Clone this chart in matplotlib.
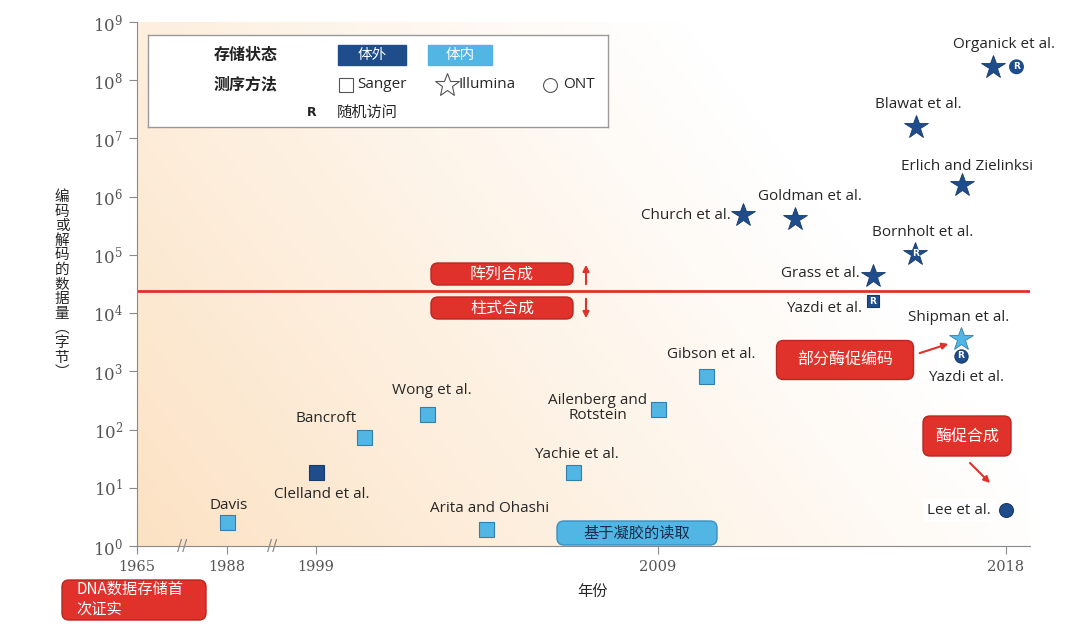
import numpy as np
import matplotlib
matplotlib.use("Agg")
import matplotlib.pyplot as plt
from matplotlib.patches import FancyBboxPatch, FancyArrowPatch
from matplotlib.ticker import FixedLocator, FuncFormatter, NullLocator

plt.rcParams['font.family'] = ['Open Sans', 'Noto Sans CJK SC', 'DejaVu Sans']
plt.rcParams['mathtext.fontset'] = 'dejavuserif'

# --- data --------------------------------------------------------------
authors = ["Davis", "Clelland et al.", "Bancroft", "Wong et al.",
           "Arita and Ohashi", "Yachie et al.", "Ailenberg and\nRotstein",
           "Gibson et al.", "Church et al.", "Goldman et al.", "Grass et al.",
           "Yazdi et al.", "Bornholt et al.", "Blawat et al.",
           "Erlich and Zielinksi", "Organick et al.", "Shipman et al.",
           "Yazdi et al.", "Lee et al."]
years = [1988, 1999, 2000.4, 2002.25, 2003.97, 2006.5, 2009, 2010.24,
         2011.2, 2012.54, 2014.56, 2014.56, 2015.65, 2015.67, 2016.86,
         2017.66, 2016.83, 2016.83, 2018]
data_bytes = [2.6, 18.7, 75, 185, 1.96, 18.7, 226, 834,
              4.9e5, 4.2e5, 4.4e4, 1.6e4, 1.04e5, 1.6e7, 1.6e6,
              1.7e8, 3.6e3, 1.84e3, 4.2]
storage = ["vivo", "vitro", "vivo", "vivo", "vivo", "vivo", "vivo", "vivo",
           "vitro", "vitro", "vitro", "vitro", "vitro", "vitro", "vitro",
           "vitro", "vivo", "vitro", "vitro"]
method = ["Sanger"] * 8 + ["Illumina"] * 3 + ["Sanger"] + ["Illumina"] * 5 + ["ONT", "ONT"]
random_access = ["", "", "", "", "", "", "", "", "", "", "", "in", "in", "",
                 "", "side", "", "in", ""]
threshold = 2.4e4  # array vs column synthesis

year_ticks = [1965, 1988, 1999, 2009, 2018]

# axis break: piecewise year -> position
knot_years = [1900, 1965, 1988, 1999, 2009, 2018, 2030]
knot_pos = [-254, 0, 90, 179, 521, 869, 1333]

DARK = "#1f4d8c"
LIGHT = "#52b6e4"
RED = "#e0312a"
GREY = "#555555"
TXT = "#262626"

fig = plt.figure(figsize=(10.8, 6.38), dpi=100)
W, H = 1080, 638
ax = fig.add_axes([137 / W, 1 - 546 / H, 893 / W, 524 / H])
ax.set_xscale('function', functions=(lambda x: np.interp(x, knot_years, knot_pos),
                                     lambda p: np.interp(p, knot_pos, knot_years)))
ax.set_yscale('log')

# soft peach background
gx, gy = np.meshgrid(np.linspace(0, 1, 300), np.linspace(0, 1, 200))
w = np.clip(1 - 0.95 * gx - 0.42 * gy, 0, 1) ** 1.05
peach = np.array([252, 226, 196]) / 255
img = (1 - w[..., None]) * np.ones(3) + w[..., None] * peach
ax.imshow(img, extent=[0, 1, 0, 1], transform=ax.transAxes, origin='lower',
          aspect='auto', zorder=0, interpolation='bilinear')

ax.set_xlim(1965, 2018.62)
ax.set_ylim(1, 1e9)

ax.axhline(threshold, color=RED, lw=2, zorder=2)

label_offsets = [(2, 16), (6, -23), (-38, 18), (5, 24), (4, 20), (4, 17),
                 (-60, 1), (5, 21), (-57, -1), (15, 22), (-53, 2), (-49, -7),
                 (7, 21), (2, 22), (5, 18), (11, 22), (-2, 21), (5, -22),
                 (-47, -1)]

for name, yr, val, st, m, ra, off in zip(authors, years, data_bytes, storage,
                                          method, random_access, label_offsets):
    fc = DARK if st == "vitro" else LIGHT
    ec = "#163a6b" if st == "vitro" else "#2f7fb0"
    if m == "Sanger":
        ms = 8.5 if ra == "in" else 10.8
        ax.plot(yr, val, marker='s', ms=ms, mfc=fc, mec=ec, mew=0.8, zorder=4)
    elif m == "Illumina":
        ax.plot(yr, val, marker='*', ms=17.5, mfc=fc, mec=ec, mew=0.6, zorder=4)
    else:
        ms = 9.5 if ra == "in" else 10
        ax.plot(yr, val, marker='o', ms=ms, mfc=fc, mec=ec, mew=0.8, zorder=4)
    if ra == "in":
        ax.text(yr, val, "R", color="white", fontsize=6.5, fontweight='bold',
                ha='center', va='center', zorder=5, family='DejaVu Sans')
    elif ra == "side":
        ax.annotate("R", (yr, val), xytext=(17, 0), textcoords='offset points',
                    color="white", fontsize=6.5, fontweight='bold',
                    ha='center', va='center', zorder=5, family='DejaVu Sans',
                    bbox=dict(boxstyle='circle,pad=0.25', fc=DARK, ec=DARK))
    lbl_bbox = dict(fc='white', ec='none', pad=3) if name == "Lee et al." else None
    ax.annotate(name, (yr, val), xytext=(off[0] * 0.72, off[1] * 0.72),
                textcoords='offset points', ha='center', va='center',
                fontsize=11, color=TXT, linespacing=1.0, zorder=6,
                bbox=lbl_bbox)

# axes styling
for side in ("top", "right"):
    ax.spines[side].set_visible(False)
for side in ("left", "bottom"):
    ax.spines[side].set_color("#8a8a8a")
ax.xaxis.set_major_locator(FixedLocator(year_ticks))
ax.xaxis.set_major_formatter(FuncFormatter(lambda v, _: f"{int(round(v))}"))
ax.xaxis.set_minor_locator(NullLocator())
ax.yaxis.set_major_locator(FixedLocator([10.0 ** k for k in range(10)]))
ax.yaxis.set_major_formatter(FuncFormatter(
    lambda v, _: f"$10^{{{int(round(np.log10(v)))}}}$"))
ax.yaxis.set_minor_locator(NullLocator())
ax.tick_params(length=6, color="#8a8a8a", labelcolor=GREY, labelsize=12, pad=4)
for t in ax.get_xticklabels():
    t.set_family('DejaVu Serif')
    t.set_fontsize(10.5)

# axis break marks
for px in (182, 272):
    fig.text(px / W, 1 - 546 / H, "//", color="#8a8a8a", fontsize=11,
             ha='center', va='center', family='DejaVu Sans')

# y label, stacked upright characters
ylabel = "编码或解码的数据量︵字节︶"
for i, ch in enumerate(ylabel):
    fig.text(62 / W, 1 - (197 + i * 14.6) / H, ch, ha='center', va='center',
             fontsize=10.5, color=TXT, family=['Noto Sans CJK SC'])
fig.text(593 / W, 1 - 591 / H, "年份", ha='center', va='center', fontsize=11,
         color=TXT, family=['Noto Sans CJK SC'])


def tag(cx, cy, w, h, text, fc, ec, tc, fs, ha='center', tx=None):
    box = FancyBboxPatch(((cx - w / 2) / 100, (H - cy - h / 2) / 100), w / 100, h / 100,
                         boxstyle="round,pad=0,rounding_size=0.07",
                         transform=fig.dpi_scale_trans, fc=fc, ec=ec, lw=1,
                         zorder=5)
    fig.add_artist(box)
    x = cx if tx is None else tx
    fig.text(x / W, 1 - cy / H, text, ha=ha, va='center', color=tc, fontsize=fs,
             family=['Noto Sans CJK SC'], zorder=6, linespacing=1.3)


def arrow(x0, y0, x1, y1):
    a = FancyArrowPatch((x0 / 100, (H - y0) / 100), (x1 / 100, (H - y1) / 100),
                        transform=fig.dpi_scale_trans, arrowstyle='-|>',
                        mutation_scale=9, color=RED, lw=1.5, zorder=6)
    fig.add_artist(a)


tag(502, 274, 142, 22, "阵列合成", RED, "#b82720", "white", 11.5)
tag(502, 308, 142, 22, "柱式合成", RED, "#b82720", "white", 11.5)
arrow(586, 287, 586, 262)
arrow(586, 296, 586, 321)
tag(845, 360, 137, 39, "部分酶促编码", RED, "#b82720", "white", 11.5)
arrow(917, 354, 951, 343)
tag(967, 436, 88, 40, "酶促合成", RED, "#b82720", "white", 11.5)
arrow(968, 461, 992, 485)
tag(637, 533, 160, 24, "基于凝胶的读取", LIGHT, "#3a8fc0", "#1a2a4a", 11)
tag(134, 600, 144, 40, "DNA数据存储首\n次证实", RED, "#b82720", "white", 11,
    ha='left', tx=76)

# legend panel (pixel coordinates inside the box)
lg = fig.add_axes([148 / W, 1 - 127 / H, 460 / W, 92 / H])
lg.set_xlim(148, 608)
lg.set_ylim(127, 35)
lg.set_xticks([])
lg.set_yticks([])
lg.set_facecolor("white")
for s in lg.spines.values():
    s.set_color("#9a9a9a")
    s.set_linewidth(1)
lg.text(246, 55, "存储状态", ha='center', va='center', fontsize=11.5,
        fontweight='bold', color="#222222", family=['Noto Sans CJK SC'])
lg.text(246, 84, "测序方法", ha='center', va='center', fontsize=11.5,
        fontweight='bold', color="#222222", family=['Noto Sans CJK SC'])
for cx, wd, txt, col in ((372, 68, "体外", DARK), (460, 64, "体内", LIGHT)):
    lg.add_patch(plt.Rectangle((cx - wd / 2, 45), wd, 20, fc=col, ec=col))
    lg.text(cx, 55, txt, ha='center', va='center', color='white', fontsize=10.5,
            family=['Noto Sans CJK SC'])
lg.plot(346, 85, marker='s', ms=10, mfc='white', mec="#555555", mew=0.8)
lg.text(357, 85, "Sanger", ha='left', va='center', fontsize=11, color=TXT)
lg.plot(447, 85, marker='*', ms=18, mfc='white', mec="#555555", mew=0.8)
lg.text(459, 85, "Illumina", ha='left', va='center', fontsize=11, color=TXT)
lg.plot(550, 85, marker='o', ms=10, mfc='white', mec="#555555", mew=0.8)
lg.text(563, 85, "ONT", ha='left', va='center', fontsize=11, color=TXT)
lg.text(312, 112, "R", ha='center', va='center', fontsize=9, fontweight='bold',
        color="#222222", family='DejaVu Sans')
lg.text(337, 112, "随机访问", ha='left', va='center', fontsize=11,
        color=TXT, family=['Noto Sans CJK SC'])

fig.savefig("out.png", dpi=100)
